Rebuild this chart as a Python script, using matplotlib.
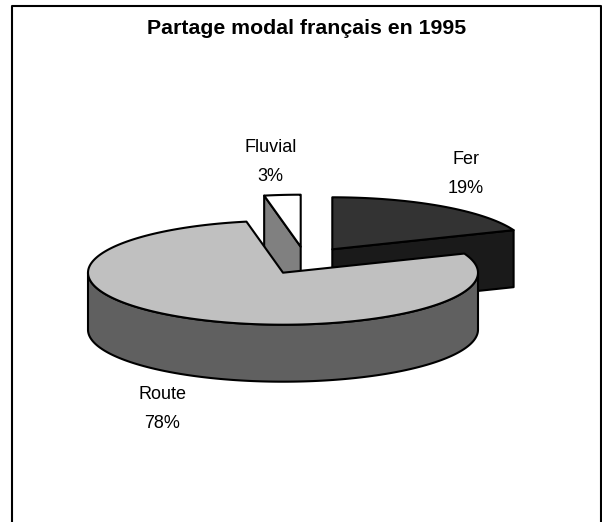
import numpy as np
import matplotlib
matplotlib.use("Agg")
import matplotlib.pyplot as plt
from matplotlib.patches import Polygon

plt.rcParams['font.family'] = ['Liberation Sans', 'DejaVu Sans']

title = "Partage modal français en 1995"
categories = ["Fer", "Route", "Fluvial"]
shares = [19, 78, 3]

# Pie geometry, in pixels of the 602x522 picture
CX, CY = 283, 272.7
RX, RY = 195, 52
DEPTH = 57
offsets = {"Fer": (49.3, -23.4), "Route": (0, 0), "Fluvial": (17.7, -26)}
top_colors = {"Fer": "#333333", "Route": "#c0c0c0", "Fluvial": "#ffffff"}
side_colors = {"Fer": "#1a1a1a", "Route": "#606060", "Fluvial": "#808080"}
# baseline of the percent line
label_pos = {"Fer": (465.5, 193), "Route": (162, 427.7), "Fluvial": (270.5, 181)}


def rim(a0, a1, cx, cy):
    # angles clockwise from 12 o'clock, in degrees
    t = np.radians(np.linspace(a0, a1, 200))
    return np.column_stack([cx + RX * np.sin(t), cy - RY * np.cos(t)])


def draw_slice(ax, name, a0, a1, z):
    dx, dy = offsets[name]
    cx, cy = CX + dx, CY + dy
    kw = dict(edgecolor="black", linewidth=1.5, joinstyle="round", zorder=z)
    down = np.array([0, DEPTH])
    apex = np.array([[cx, cy]])

    # cut faces, only those turned to the viewer
    for a, visible in ((a0, 180 < a0 < 360), (a1, 0 < a1 < 180)):
        if visible:
            p = rim(a, a, cx, cy)[:1]
            ax.add_patch(Polygon(np.vstack([apex, p, p + down, apex + down]),
                                 facecolor=side_colors[name], **kw))

    # front rim
    lo, hi = max(a0, 90), min(a1, 270)
    if lo < hi:
        edge = rim(lo, hi, cx, cy)
        ax.add_patch(Polygon(np.vstack([edge, edge[::-1] + down]),
                             facecolor=side_colors[name], **kw))

    ax.add_patch(Polygon(np.vstack([apex, rim(a0, a1, cx, cy)]),
                         facecolor=top_colors[name], **kw))


fig = plt.figure(figsize=(6.02, 5.22), dpi=100)
ax = fig.add_axes([0, 0, 1, 1])
ax.set_xlim(0, 602)
ax.set_ylim(522, 0)
ax.axis("off")

# chart area border, open at the bottom
ax.plot([11.5, 11.5, 601.3, 601.3], [522, 5.5, 5.5, 522], color="black", lw=1.5, zorder=1)

edges = np.cumsum([0] + shares) / sum(shares) * 360
order = [0, 2, 1]  # back slices first
for z, i in enumerate(order):
    draw_slice(ax, categories[i], edges[i], edges[i + 1], z + 2)

for name, share in zip(categories, shares):
    x, y = label_pos[name]
    ax.text(x, y, f"{name}\n{share}%", ha="center", va="baseline", fontsize=13,
            linespacing=1.93, color="black")

ax.text(307, 28.5, title, ha="center", va="center", fontsize=15.3, fontweight="bold")

fig.savefig("out.png", dpi=100)
